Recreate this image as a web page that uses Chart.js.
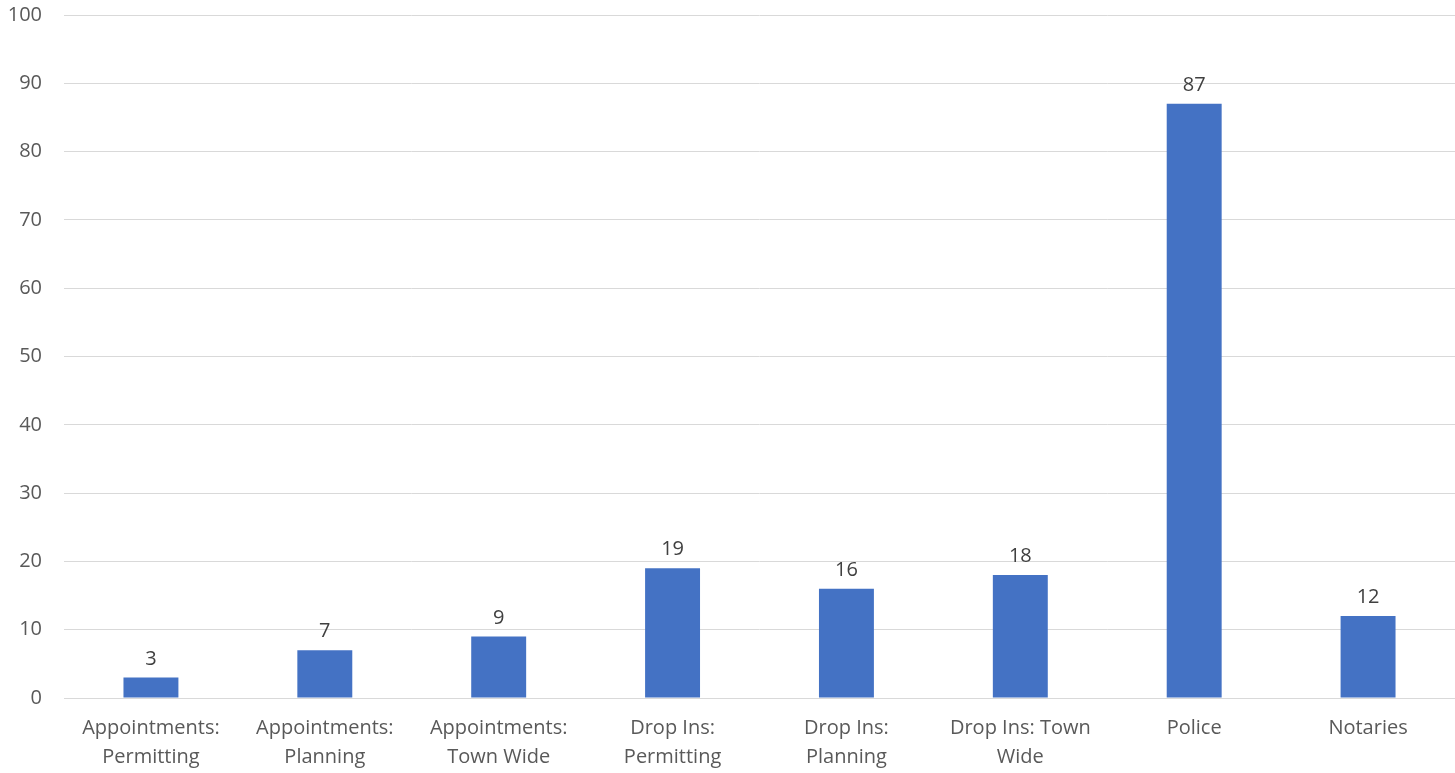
<!DOCTYPE html>
<html>
<head>
<meta charset="utf-8">
<script src="https://cdn.jsdelivr.net/npm/chart.js@4/dist/chart.umd.min.js"></script>
<style>
  html, body { margin: 0; padding: 0; background: #fff; }
  #wrap { width: 1455px; height: 773px; position: relative; }
</style>
</head>
<body>
<div id="wrap"><canvas id="chart"></canvas></div>
<script>
// chart data
const categories = [
    ['Appointments:', 'Permitting'],
    ['Appointments:', 'Planning'],
    ['Appointments:', 'Town Wide'],
    ['Drop Ins:', 'Permitting'],
    ['Drop Ins:', 'Planning'],
    ['Drop Ins: Town', 'Wide'],
    'Police',
    'Notaries'
];
const visits = [3, 7, 9, 19, 16, 18, 87, 12];
const yTicks = [0, 10, 20, 30, 40, 50, 60, 70, 80, 90, 100];

const FONT = '"Open Sans", "Noto Sans", sans-serif';
const TXT = '#595959';

// simple value labels above each bar
const barLabels = {
    id: 'barLabels',
    afterDatasetsDraw: (chart) => {
        const ctx = chart.ctx;
        const meta = chart.getDatasetMeta(0);
        ctx.save();
        ctx.font = '20px ' + FONT;
        ctx.fillStyle = '#404040';
        ctx.textAlign = 'center';
        ctx.textBaseline = 'alphabetic';
        meta.data.forEach((bar, i) => {
            ctx.fillText(String(visits[i]), bar.x, bar.y - 13);
        });
        ctx.restore();
    }
};

new Chart(document.getElementById('chart'), {
    type: 'bar',
    data: {
        labels: categories,
        datasets: [{
            data: visits,
            backgroundColor: '#4472C4',
            barPercentage: 1,
            categoryPercentage: 0.316
        }]
    },
    options: {
        responsive: true,
        maintainAspectRatio: false,
        animation: false,
        layout: { padding: 0 },
        plugins: { legend: { display: false }, tooltip: { enabled: false } },
        scales: {
            x: {
                grid: { display: false, drawTicks: false },
                border: { color: '#d9d9d9', width: 1 },
                ticks: {
                    color: TXT,
                    font: { family: FONT, size: 20, lineHeight: 1.45 },
                    padding: 16,
                    maxRotation: 0,
                    autoSkip: false
                },
                afterFit: (s) => {
                    s.height = 75;
                    s.paddingTop = 0; s.paddingBottom = 0;
                    s.paddingLeft = 0; s.paddingRight = 0;
                }
            },
            y: {
                min: 0,
                max: 100,
                afterBuildTicks: (s) => { s.ticks = yTicks.map(v => ({ value: v })); },
                grid: { color: '#d9d9d9', drawTicks: false },
                border: { display: false },
                ticks: {
                    color: TXT,
                    font: { family: FONT, size: 20 },
                    padding: 22
                },
                afterFit: (s) => {
                    s.width = 64;
                    s.paddingTop = 15; s.paddingBottom = 0;
                }
            }
        }
    },
    plugins: [barLabels]
});
</script>
</body>
</html>
